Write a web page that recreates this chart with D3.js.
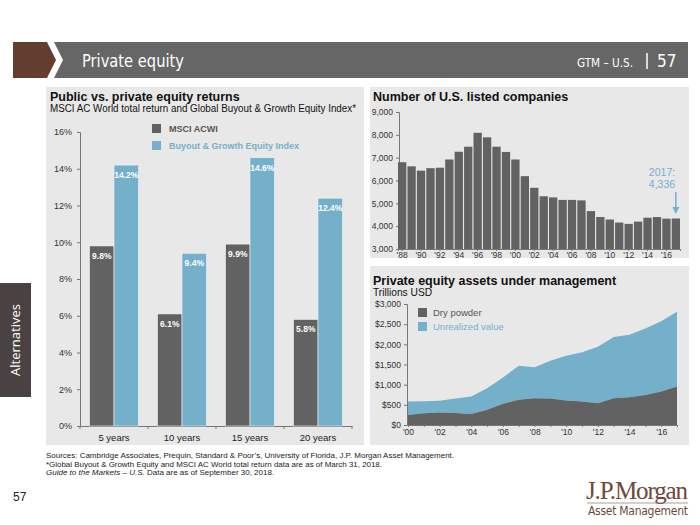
<!DOCTYPE html>
<html><head><meta charset="utf-8">
<script src="https://cdn.jsdelivr.net/npm/d3@7/dist/d3.min.js"></script>
<style>
body{margin:0;background:#fff;}
svg{display:block;font-family:"Liberation Sans",Arial,sans-serif;}
</style></head>
<body>
<svg id="c" width="700" height="525"></svg>
<script>
// ---------- DATA ----------
const retCategories = ["5 years","10 years","15 years","20 years"];
const retSeries = ["MSCI ACWI","Buyout & Growth Equity Index"];
const msciValues = [9.8, 6.1, 9.9, 5.8];
const buyoutValues = [14.2, 9.4, 14.6, 12.4];
const retTicks = [0,2,4,6,8,10,12,14,16];

const listedYears = d3.range(1988, 2018);
const listedValues = [6800,6620,6430,6540,6560,6920,7260,7480,8090,7890,7480,7250,6920,6190,5680,5310,5260,5150,5150,5130,4660,4400,4290,4160,4100,4200,4370,4400,4330,4336];
const listedTicks = [3000,4000,5000,6000,7000,8000,9000];

const aumYears = d3.range(2000, 2018);
const dryPowder = [250,290,310,300,275,380,525,625,665,655,605,580,540,665,685,745,830,955];
const totalAum = [580,590,600,660,705,910,1175,1470,1430,1590,1720,1805,1940,2180,2240,2390,2570,2810];
const aumTicks = [0,500,1000,1500,2000,2500,3000];

const DARK = "#626262", BLUE = "#75b0cb", PANEL = "#e8e8e8";
const svg = d3.select("#c");

// ---------- HEADER ----------
svg.append("polygon").attr("points","13,42 47,42 56,60 47,78 13,78").attr("fill","#633e2f");
svg.append("polygon").attr("points","54,42 688,42 688,78 54,78 63,60").attr("fill","#666666");
const hf = '"Liberation Sans Narrow","DejaVu Sans Condensed","Open Sans",sans-serif';
svg.append("text").attr("x",82).attr("y",67).attr("fill","#fff").attr("font-size",18)
  .attr("font-family",hf).attr("textLength",102).attr("lengthAdjust","spacingAndGlyphs").text("Private equity");
svg.append("text").attr("x",577).attr("y",67).attr("fill","#fff").attr("font-size",13)
  .attr("font-family",hf).attr("textLength",56).attr("lengthAdjust","spacingAndGlyphs").text("GTM – U.S.");
svg.append("line").attr("x1",647).attr("x2",647).attr("y1",53).attr("y2",69).attr("stroke","#fff").attr("stroke-width",1.5);
svg.append("text").attr("x",657).attr("y",67).attr("fill","#fff").attr("font-size",17)
  .attr("font-family",hf).text("57");

// ---------- SIDEBAR ----------
svg.append("rect").attr("x",0).attr("y",283).attr("width",31).attr("height",114).attr("fill","#4a4242");
svg.append("text").attr("transform","translate(20,340) rotate(-90)").attr("text-anchor","middle")
  .attr("fill","#fff").attr("font-size",13).attr("font-family",'"Open Sans",sans-serif').text("Alternatives");

// ---------- PANELS ----------
svg.append("rect").attr("x",46).attr("y",87).attr("width",318).attr("height",358).attr("fill",PANEL);
svg.append("rect").attr("x",370).attr("y",87).attr("width",319).attr("height",171).attr("fill",PANEL);
svg.append("rect").attr("x",370).attr("y",266).attr("width",319).attr("height",179).attr("fill",PANEL);

// ---------- LEFT CHART ----------
{
  const g = svg.append("g");
  g.append("text").attr("x",50).attr("y",101).attr("font-size",12.5).attr("font-weight","bold").attr("fill","#111").text("Public vs. private equity returns");
  g.append("text").attr("x",50).attr("y",112).attr("font-size",10).attr("fill","#111")
    .attr("textLength",306).attr("lengthAdjust","spacingAndGlyphs").text("MSCI AC World total return and Global Buyout & Growth Equity Index*");

  const y = d3.scaleLinear().domain([0,16]).range([426,132]);
  const x0 = d3.scaleBand().domain(retCategories).range([80,352]);
  const x1 = d3.scaleBand().domain(retSeries).range([0,49]);
  const off = (x0.bandwidth()-49)/2;

  const yAx = g.append("g").attr("transform","translate(80,0)")
    .call(d3.axisLeft(y).tickValues(retTicks).tickFormat(d=>d+"%").tickSize(3).tickPadding(5));
  yAx.selectAll("text").attr("font-size",9).attr("fill","#333").attr("font-family","Liberation Sans");
  yAx.selectAll("line,path").attr("stroke","#777");

  const xAx = g.append("g").attr("transform","translate(0,426)")
    .call(d3.axisBottom(x0).tickSize(0).tickPadding(8));
  xAx.selectAll("text").attr("font-size",9.5).attr("fill","#222").attr("font-family","Liberation Sans");
  xAx.selectAll("path").attr("stroke","#777");
  g.selectAll(".bt").data(retCategories.concat(["end"])).enter().append("line")
    .attr("x1",(d,i)=>80+i*x0.step()).attr("x2",(d,i)=>80+i*x0.step())
    .attr("y1",426).attr("y2",429).attr("stroke","#777");

  const rows = retCategories.map((c,i)=>({c, vals:[msciValues[i],buyoutValues[i]]}));
  rows.forEach(r=>{
    r.vals.forEach((v,j)=>{
      const s = retSeries[j];
      const bx = x0(r.c)+off+x1(s);
      g.append("rect").attr("x",bx).attr("y",y(v)).attr("width",x1.bandwidth()).attr("height",426-y(v))
        .attr("fill", j?BLUE:DARK).attr("stroke","#f4f4f4").attr("stroke-width",0.6);
      g.append("text").attr("x",bx+x1.bandwidth()/2).attr("y",y(v)+13).attr("text-anchor","middle")
        .attr("font-size",8.5).attr("font-weight","bold").attr("fill","#fff").text(v.toFixed(1)+"%");
    });
  });
  retSeries.forEach((s,i)=>{
    g.append("rect").attr("x",152).attr("y",124+i*17).attr("width",9).attr("height",9).attr("fill",i?BLUE:DARK);
    g.append("text").attr("x",169).attr("y",132+i*17).attr("font-size",9).attr("font-weight","bold")
      .attr("fill",i?BLUE:"#555").text(s);
  });
}

// ---------- TOP RIGHT CHART ----------
{
  const g = svg.append("g");
  g.append("text").attr("x",373).attr("y",101).attr("font-size",12.5).attr("font-weight","bold").attr("fill","#111").text("Number of U.S. listed companies");
  const y = d3.scaleLinear().domain([3000,9000]).range([249,112]);
  const x = d3.scaleBand().domain(listedYears).range([398,680]).paddingInner(0.12);
  const yAx = g.append("g").attr("transform","translate(399,0)")
    .call(d3.axisLeft(y).tickValues(listedTicks).tickFormat(d3.format(",")).tickSize(3).tickPadding(3));
  yAx.selectAll("text").attr("font-size",8.5).attr("fill","#333").attr("font-family","Liberation Sans");
  yAx.selectAll("line,path").attr("stroke","#777");
  g.selectAll(".b").data(listedValues).enter().append("rect")
    .attr("x",(d,i)=>x(listedYears[i])).attr("y",d=>y(d)).attr("width",x.bandwidth())
    .attr("height",d=>249-y(d)).attr("fill",DARK);
  const xAx = g.append("g").attr("transform","translate(0,249)")
    .call(d3.axisBottom(x).tickValues(listedYears.filter(d=>d%2===0)).tickFormat(d=>"'"+String(d).slice(2)).tickSize(2).tickPadding(1));
  xAx.selectAll("text").attr("font-size",8.5).attr("fill","#333").attr("font-family","Liberation Sans");
  xAx.selectAll("line,path").attr("stroke","#777");
  const ax = x(2017)+x.bandwidth()/2;
  g.append("text").attr("x",662).attr("y",176).attr("text-anchor","middle").attr("font-size",10.5).attr("fill",BLUE).text("2017:");
  g.append("text").attr("x",662).attr("y",188).attr("text-anchor","middle").attr("font-size",10.5).attr("fill",BLUE).text("4,336");
  g.append("line").attr("x1",ax).attr("x2",ax).attr("y1",192).attr("y2",208).attr("stroke",BLUE).attr("stroke-width",1.5);
  g.append("polygon").attr("points",`${ax-3.5},207 ${ax+3.5},207 ${ax},214`).attr("fill",BLUE);
}

// ---------- BOTTOM RIGHT CHART ----------
{
  const g = svg.append("g");
  g.append("text").attr("x",373).attr("y",285).attr("font-size",12.5).attr("font-weight","bold").attr("fill","#111").text("Private equity assets under management");
  g.append("text").attr("x",373).attr("y",296).attr("font-size",10.2).attr("fill","#111").text("Trillions USD");
  const y = d3.scaleLinear().domain([0,3000]).range([425,304]);
  const x = d3.scaleLinear().domain([2000,2017]).range([408,677]);
  const data = aumYears.map((yr,i)=>({yr, dry:dryPowder[i], tot:totalAum[i]}));
  g.append("path").datum(data).attr("fill",BLUE)
    .attr("d",d3.area().x(d=>x(d.yr)).y0(d=>y(d.dry)).y1(d=>y(d.tot)));
  g.append("path").datum(data).attr("fill",DARK)
    .attr("d",d3.area().x(d=>x(d.yr)).y0(y(0)).y1(d=>y(d.dry)));
  const yAx = g.append("g").attr("transform","translate(407,0)")
    .call(d3.axisLeft(y).tickValues(aumTicks).tickFormat(d=>"$"+d3.format(",")(d)).tickSize(3).tickPadding(3));
  yAx.selectAll("text").attr("font-size",8.5).attr("fill","#333").attr("font-family","Liberation Sans");
  yAx.selectAll("line,path").attr("stroke","#777");
  const xAx = g.append("g").attr("transform","translate(0,425)")
    .call(d3.axisBottom(x).tickValues(aumYears).tickFormat(d=>d%2===0?"'"+String(d).slice(2):"").tickSize(2).tickPadding(2).tickSizeOuter(0));
  xAx.selectAll("text").attr("font-size",8.5).attr("fill","#333").attr("font-family","Liberation Sans");
  xAx.selectAll("line,path").attr("stroke","#777");
  ["Dry powder","Unrealized value"].forEach((s,i)=>{
    g.append("rect").attr("x",418).attr("y",308+i*14).attr("width",9).attr("height",9).attr("fill",i?BLUE:DARK);
    g.append("text").attr("x",433).attr("y",316+i*14).attr("font-size",9.5).attr("fill",i?BLUE:"#555").text(s);
  });
}

// ---------- FOOTER ----------
const ff = svg.append("g").attr("font-size",8).attr("fill","#222").attr("font-family",'"Liberation Sans Narrow","Liberation Sans",sans-serif');
ff.append("text").attr("x",46).attr("y",458).attr("textLength",408).attr("lengthAdjust","spacingAndGlyphs").text("Sources: Cambridge Associates, Prequin, Standard & Poor’s, University of Florida, J.P. Morgan Asset Management.");
ff.append("text").attr("x",46).attr("y",466.5).attr("textLength",336).attr("lengthAdjust","spacingAndGlyphs").text("*Global Buyout & Growth Equity and MSCI AC World total return data are as of March 31, 2018.");
const t3 = ff.append("text").attr("x",46).attr("y",475);
t3.append("tspan").attr("font-style","italic").text("Guide to the Markets – U.S. ");
t3.append("tspan").text("Data are as of September 30, 2018.");

svg.append("text").attr("x",13).attr("y",501).attr("font-size",12).attr("fill","#222").text("57");
svg.append("text").attr("x",688).attr("y",499).attr("text-anchor","end").attr("font-size",25)
  .attr("font-family",'"Liberation Serif","DejaVu Serif",serif').attr("fill","#6b4a3a").attr("textLength",102).text("J.P.Morgan");
svg.append("line").attr("x1",587).attr("x2",688).attr("y1",503).attr("y2",503).attr("stroke","#8a7468").attr("stroke-width",0.7);
svg.append("text").attr("x",688).attr("y",515).attr("text-anchor","end").attr("font-size",12)
  .attr("font-family",'"Liberation Sans Narrow","DejaVu Sans Condensed",sans-serif').attr("fill","#6b4a3a").attr("textLength",100).text("Asset Management");
</script>
</body></html>
